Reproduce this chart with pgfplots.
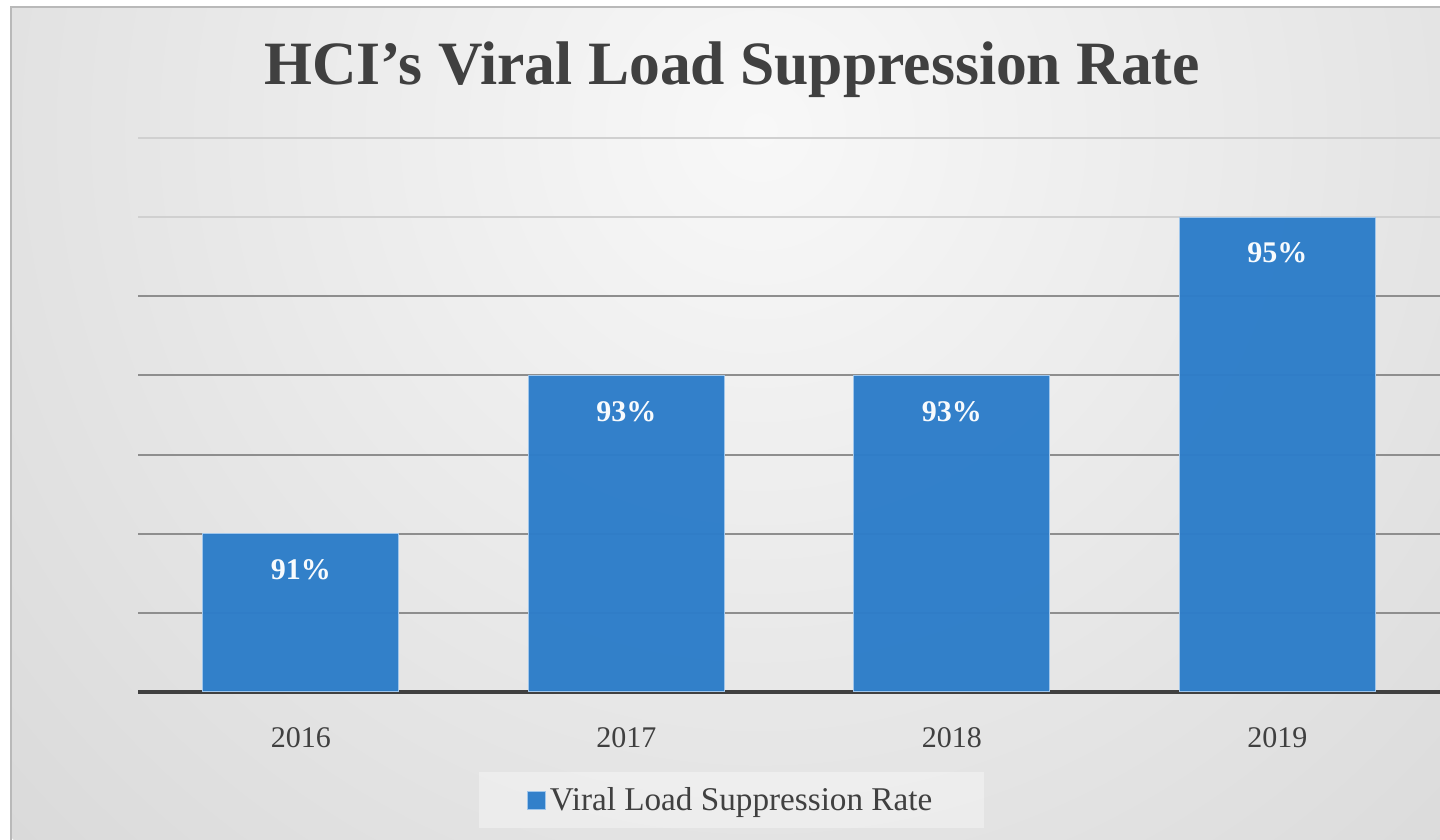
\documentclass[border=0pt]{standalone}
\usepackage{fontspec}
\setmainfont{Liberation Serif}
\usepackage{pgfplots}
\pgfplotsset{compat=1.18}

\definecolor{barblue}{RGB}{45,125,201}
\definecolor{baredge}{RGB}{160,198,235}
\definecolor{txtgray}{RGB}{64,64,64}
\definecolor{bgin}{RGB}{248,248,248}
\definecolor{bgout}{RGB}{188,188,188}

\pgfdeclareradialshading{chartbg}{\pgfpoint{0bp}{0bp}}{%
  color(0bp)=(bgin); color(50bp)=(bgout)}

\begin{document}
% 1 px of the reference = 0.5pt
\begin{tikzpicture}
\useasboundingbox (0,0) rectangle (720pt,420pt);
\fill[white] (0,0) rectangle (720pt,420pt);
\begin{scope}
  \clip (5.5pt,0) rectangle (720pt,416.5pt);
  \shade[shading=chartbg] (380pt,355pt) circle (515pt);
\end{scope}
\draw[gray!55, line width=0.8pt] (5.5pt,0) -- (5.5pt,416.5pt) -- (720pt,416.5pt);

\node[font=\bfseries\fontsize{30.8}{36}\selectfont, text=txtgray, anchor=base] at (366pt,377.5pt)
  {HCI’s Viral Load Suppression Rate};

\begin{axis}[
  at={(69pt,74pt)}, anchor=south west,
  scale only axis, width=651pt, height=277pt,
  ybar, bar width=98pt,
  xmin=-0.5, xmax=3.5, ymin=89, ymax=96,
  axis x line*=bottom, axis y line*=left,
  x axis line style={-, line width=2pt, draw=txtgray},
  y axis line style={draw=none},
  xtick=data, xticklabels={2016,2017,2018,2019},
  major tick length=0pt, minor tick length=0pt,
  xticklabel style={anchor=center, yshift=-23pt, text=txtgray,
    font=\fontsize{15}{18}\selectfont},
  ytick={90,91,92}, yticklabels={},
  extra y ticks={93,94}, extra y tick labels={},
  extra y tick style={grid style={draw={rgb,255:red,170;green,170;blue,170}, line width=1pt}},
  minor ytick={95,96},
  ymajorgrids, yminorgrids,
  major grid style={draw={rgb,255:red,142;green,142;blue,142}, line width=1pt},
  minor grid style={draw={rgb,255:red,208;green,208;blue,208}, line width=1pt},
  /pgf/number format/assume math mode=true,
  nodes near coords={\pgfmathprintnumber{\pgfplotspointmeta}\%},
  every node near coord/.append style={anchor=center, yshift=-18pt,
    text=white, font=\bfseries\fontsize{15}{18}\selectfont},
  legend style={at={(0.456,-0.195)}, anchor=center, draw=none,
    fill=white, fill opacity=0.35, text opacity=1,
    inner xsep=24pt, inner ysep=5.5pt,
    font=\fontsize{16.6}{19}\selectfont, text=txtgray},
  legend image code/.code={\fill[barblue, draw=baredge, line width=0.4pt]
    (-1pt,-4.5pt) rectangle (8pt,4.5pt);},
]
\addplot[fill=barblue, fill opacity=0.97, draw=baredge, line width=0.6pt]
  coordinates {(0,91) (1,93) (2,93) (3,95)};
\addlegendentry{Viral Load Suppression Rate}
\end{axis}
\end{tikzpicture}
\end{document}
